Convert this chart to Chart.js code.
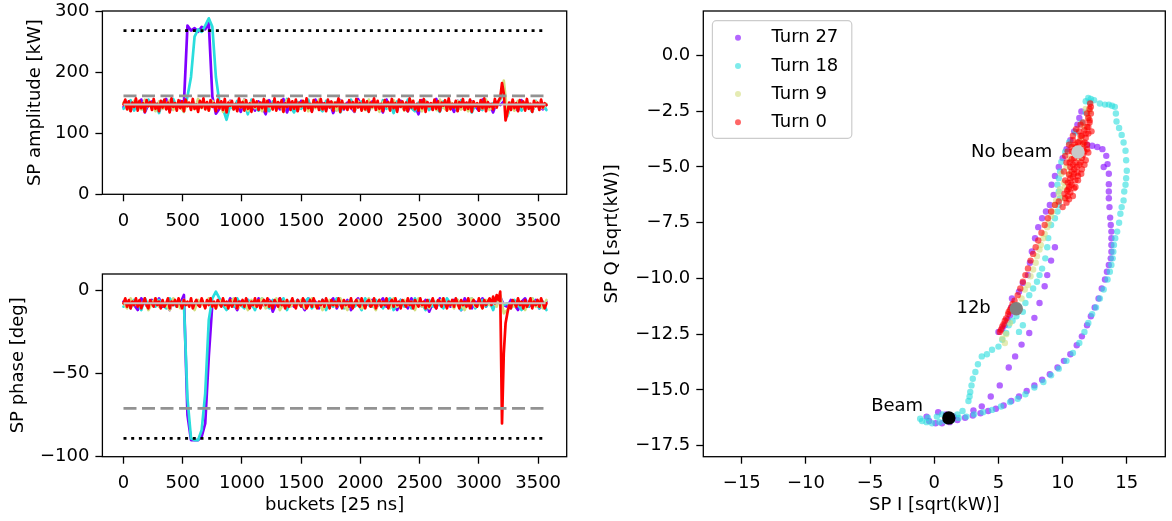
<!DOCTYPE html>
<html>
<head>
<meta charset="utf-8">
<script src="https://cdn.jsdelivr.net/npm/chart.js@4.4.1/dist/chart.umd.min.js"></script>
<style>
  body { margin: 0; background: #fff; width: 1172px; height: 521px; overflow: hidden; position: relative; }
  canvas { position: absolute; }
  #ampChart { left: 0; top: 0; }
  #phaseChart { left: 0; top: 240px; }
  #iqChart { left: 580px; top: 0; }
</style>
</head>
<body>
<canvas id="ampChart" width="580" height="240"></canvas>
<canvas id="phaseChart" width="580" height="281"></canvas>
<canvas id="iqChart" width="592" height="521"></canvas>
<script>
// sampling grids of the time series (Turn 0 sampled finer, it sits on top)
const buckets = Array.from({length: 120}, (_, i) => i * 30);
const fineBuckets = Array.from({length: 239}, (_, i) => i * 15);
const bucketTicks = [0, 500, 1000, 1500, 2000, 2500, 3000, 3500];
const ampTicks = [0, 100, 200, 300];
const phaseTicks = [-100, -50, 0];
const iTicks = [-15, -10, -5, 0, 5, 10, 15];
const qTicks = [-17.5, -15, -12.5, -10, -7.5, -5, -2.5, 0];

const turnLabels = ['Turn 27', 'Turn 18', 'Turn 9', 'Turn 0'];
const turnColors = ['128,0,255', '42,221,221', '212,221,128', '255,0,0'];

// reference levels: limit (dotted), threshold (dashed), mean (grey)
const lineSpan = [0, 3563];
const ampLevels = [268, 161, 147];
const phaseLevels = [-89, -71, -8];

// SP amplitude [kW]
const ampTurn27 = [
  143,151,137,149,140,155,134,147,152,138,
  150,141,156,136,148,144,153,148,276,268,
  272,266,274,270,280,160,132,140,150,138,
  153,142,147,135,155,140,149,137,152,143,
  131,154,141,148,139,156,134,150,145,137,
  153,140,147,136,155,143,149,138,151,133,
  146,154,139,150,142,135,156,144,148,137,
  152,141,147,134,155,140,149,138,153,143,
  136,151,145,131,154,141,148,139,156,137,
  150,143,147,135,153,140,149,138,152,144,
  137,155,141,148,134,151,146,152,140,149,
  143,137,154,140,148,136,151,145,139,147];
const ampTurn18 = [
  140,148,154,137,151,143,136,155,141,149,
  133,152,144,138,156,142,147,135,160,192,
  258,270,266,276,288,274,192,150,140,122,
  145,139,153,142,148,131,155,144,137,150,
  146,136,152,141,149,138,156,143,134,151,
  140,147,155,137,150,142,136,153,145,139,
  151,134,148,143,155,138,147,152,141,136,
  149,144,137,154,140,148,133,152,146,139,
  155,141,136,150,144,153,138,147,142,135,
  152,139,148,145,137,154,141,150,134,147,
  143,138,153,140,149,145,155,168,128,146,
  140,152,137,149,144,135,153,141,148,138];
const ampTurn9 = [
  150,142,137,153,146,139,155,144,148,136,
  152,140,147,154,138,149,143,135,151,145,
  139,156,141,148,137,153,144,150,135,147,
  152,139,146,143,155,137,150,141,148,136,
  153,144,139,151,147,135,154,142,149,138,
  145,152,136,148,141,155,139,147,143,150,
  137,153,145,140,149,136,152,144,138,155,
  141,148,135,151,146,139,154,143,150,137,
  147,153,140,145,136,152,144,149,138,155,
  142,137,150,147,153,139,145,136,151,144,
  148,140,155,138,146,143,158,186,130,150,
  137,153,144,140,149,136,152,145,141,148];
const ampTurn0 = [
  147,155,139,152,136,150,143,157,137,153,141,149,
  135,154,144,151,138,156,140,148,136,153,142,155,
  139,150,134,157,143,149,137,154,141,152,136,155,
  144,150,138,156,140,147,135,153,142,157,139,151,
  137,154,143,149,136,155,141,152,138,156,134,150,
  145,153,139,148,136,157,142,151,137,154,140,149,
  135,155,143,152,138,150,141,156,136,153,144,148,
  139,157,137,151,142,154,135,149,143,156,138,152,
  140,155,136,150,144,153,137,157,141,148,135,154,
  143,151,138,156,139,149,136,155,142,152,137,150,
  144,157,135,153,140,148,138,154,141,151,136,156,
  142,149,137,155,139,152,135,150,143,157,138,153,
  140,148,136,154,144,151,137,156,141,149,135,155,
  143,152,138,150,136,157,142,153,139,148,137,154,
  141,156,135,151,144,149,138,155,140,152,136,150,
  145,154,137,157,139,148,142,153,136,151,143,156,
  138,150,140,155,135,152,144,149,137,154,141,157,
  136,151,143,148,139,156,142,153,158,182,165,121,
  133,150,138,155,141,149,136,154,143,152,137,156,
  140,148,135,153,144,150,138,155,142,149,146];

// SP phase [deg]
const phaseTurn27 = [
  -7,-10,-6,-9,-12,-5,-8,-11,-6,-9,
  -5,-10,-8,-12,-6,-9,-8,-3,-75,-90,
  -90,-90,-88,-80,-40,-8,-10,-6,-9,-11,
  -5,-8,-12,-7,-10,-6,-9,-11,-5,-8,
  -10,-6,-13,-8,-5,-9,-11,-7,-10,-6,
  -8,-12,-5,-9,-7,-11,-6,-10,-8,-5,
  -11,-7,-9,-6,-12,-8,-5,-10,-7,-9,
  -6,-11,-8,-5,-10,-7,-9,-12,-6,-8,
  -11,-5,-9,-7,-10,-6,-13,-8,-11,-5,
  -9,-7,-10,-6,-8,-12,-5,-9,-11,-7,
  -8,-5,-10,-6,-11,-7,-4,-9,-10,-6,
  -9,-12,-7,-5,-10,-8,-6,-11,-9,-7];
const phaseTurn18 = [
  -10,-7,-11,-6,-8,-12,-5,-9,-7,-10,
  -6,-9,-11,-5,-8,-10,-7,-8,-65,-89,
  -90,-90,-84,-62,-18,-5,-1,-5,-9,-12,
  -7,-10,-5,-9,-11,-6,-8,-12,-7,-5,
  -9,-11,-6,-8,-10,-5,-12,-7,-9,-6,
  -10,-7,-5,-11,-8,-9,-6,-12,-7,-10,
  -5,-9,-11,-7,-6,-10,-8,-12,-5,-9,
  -10,-6,-8,-11,-7,-5,-12,-9,-6,-10,
  -7,-11,-5,-9,-8,-12,-6,-10,-7,-9,
  -11,-5,-8,-10,-6,-12,-9,-7,-5,-11,
  -8,-6,-10,-7,-12,-5,-6,-9,-8,-11,
  -6,-9,-12,-7,-10,-5,-8,-11,-7,-12];
const phaseTurn9 = [
  -8,-11,-5,-9,-7,-10,-6,-12,-8,-5,
  -10,-7,-9,-12,-5,-8,-11,-6,-9,-7,
  -12,-6,-8,-10,-5,-9,-11,-7,-6,-10,
  -8,-5,-11,-9,-7,-12,-6,-10,-8,-5,
  -11,-7,-9,-5,-12,-8,-6,-10,-7,-9,
  -6,-11,-8,-5,-10,-7,-12,-9,-6,-8,
  -10,-5,-9,-12,-7,-8,-6,-11,-10,-5,
  -8,-12,-6,-9,-7,-11,-5,-10,-8,-6,
  -9,-7,-12,-5,-10,-8,-11,-6,-9,-7,
  -5,-10,-8,-11,-6,-9,-12,-7,-5,-10,
  -8,-11,-6,-9,-7,-10,-3,-14,-12,-8,
  -10,-6,-9,-12,-7,-5,-10,-8,-11,-6];
const phaseTurn0 = [
  -8,-5,-10,-6,-11,-7,-9,-5,-10,-6,-11,-8,
  -5,-9,-11,-6,-8,-10,-5,-9,-7,-11,-6,-10,
  -8,-5,-11,-7,-9,-6,-10,-5,-8,-11,-6,-9,
  -7,-10,-5,-11,-8,-6,-9,-10,-5,-8,-11,-6,
  -9,-5,-10,-7,-11,-6,-8,-10,-5,-9,-7,-11,
  -6,-10,-8,-5,-11,-7,-9,-6,-10,-5,-8,-11,
  -7,-9,-5,-10,-6,-11,-8,-6,-9,-5,-10,-7,
  -11,-6,-8,-10,-5,-9,-7,-11,-6,-10,-8,-5,
  -9,-11,-6,-8,-10,-5,-7,-11,-9,-6,-10,-5,
  -8,-11,-7,-9,-6,-10,-5,-8,-11,-6,-9,-7,
  -10,-5,-8,-11,-6,-9,-7,-10,-5,-11,-8,-6,
  -9,-10,-5,-8,-11,-7,-6,-10,-9,-5,-11,-8,
  -6,-10,-7,-9,-5,-11,-8,-6,-10,-5,-9,-7,
  -11,-6,-8,-10,-5,-9,-7,-11,-6,-8,-10,-5,
  -9,-7,-11,-6,-10,-8,-5,-9,-11,-6,-7,-10,
  -5,-8,-11,-7,-9,-6,-10,-5,-8,-11,-6,-9,
  -7,-10,-5,-11,-8,-6,-9,-10,-5,-8,-11,-6,
  -9,-7,-5,-9,-4,-8,-3,-6,-1,-80,-38,-20,
  -14,-9,-11,-6,-8,-10,-5,-9,-7,-11,-6,-10,
  -8,-5,-11,-7,-9,-6,-10,-5,-8,-11,-8];

// SP I / SP Q [sqrt(kW)] per turn
const iqTurn27I = [11.46,11.3,11.15,10.9,10.6,10.3,10.0,9.7,9.4,9.14,9.3,9.0,8.7,8.4,8.1,7.85,7.6,7.45,7.3,6.9,6.6,6.05,6.0,5.9,5.7,5.5,5.3,5.0,
  11.9,12.3,12.7,13.1,13.4,13.5,13.2,13.6,13.6,13.6,13.6,13.65,13.7,13.75,13.8,13.8,13.8,13.8,13.75,13.6,13.45,
  13.3,13.05,12.8,12.5,12.2,11.9,11.5,11.1,10.6,10.1,9.6,9.0,8.4,7.8,7.2,6.6,6.0,5.4,4.8,4.2,3.6,3.0,2.4,1.8,1.2,0.6,0.1,-0.4,-0.6,0.3,0.9,1.5,
  3.05,3.7,4.4,5.1,5.8,6.3,6.8,7.4,7.8,8.2,8.6,8.8,9.1,9.4];
const iqTurn27Q = [-2.51,-2.8,-3.1,-3.4,-3.8,-4.2,-4.6,-5.0,-5.4,-5.8,-6.25,-6.7,-7.0,-7.3,-7.7,-8.2,-8.79,-9.3,-9.85,-10.2,-10.6,-10.9,-11.3,-11.65,-11.85,-12.1,-12.25,-12.4,
  -4.0,-4.05,-4.1,-4.2,-4.5,-4.87,-5.0,-5.3,-5.77,-6.1,-6.4,-6.8,-7.27,-7.6,-7.9,-8.2,-8.5,-8.8,-9.1,-9.4,-9.7,
  -10.05,-10.45,-10.9,-11.3,-11.7,-12.1,-12.6,-13.0,-13.4,-13.7,-14.0,-14.3,-14.55,-14.8,-15.05,-15.3,-15.5,-15.7,-15.85,-15.95,-16.05,-16.15,-16.25,-16.35,-16.45,-16.5,-16.5,-16.4,-16.2,-16.0,-16.1,-16.2,
  -15.92,-15.74,-15.3,-14.8,-14.0,-13.5,-12.97,-12.45,-11.77,-11.1,-10.35,-9.85,-9.2,-8.6];
const iqTurn18I = [11.8,12.0,12.2,12.45,
  12.9,13.3,13.6,13.85,14.07,14.15,14.2,14.4,14.6,14.75,14.9,14.95,15.0,14.95,14.9,14.8,14.75,14.6,14.5,14.4,14.25,14.1,14.0,13.95,13.9,13.8,13.68,
  13.5,13.2,12.9,12.6,12.3,12.0,11.7,11.3,10.8,10.3,9.7,9.1,8.5,7.8,7.1,6.5,5.9,5.2,4.5,3.8,3.1,2.5,1.9,1.4,0.87,0.4,-0.17,-0.6,-0.95,-1.1,-0.5,0.2,0.6,1.3,1.8,2.2,
  2.66,2.75,2.8,2.9,3.0,3.2,3.4,3.7,4.1,4.5,5.0,5.3,5.6,5.8,6.1,6.4,6.9,6.9,6.6,7.1,7.4,7.7,8.0,8.2,8.4,8.65,8.8,8.88,9.1,9.4,9.6,9.7,9.8,9.7,9.6,9.7,9.8,9.9,10.2,10.5,11.0,11.5,11.8,12.1];
const iqTurn18Q = [-2.05,-1.9,-1.95,-2.0,
  -2.15,-2.2,-2.2,-2.25,-2.3,-2.6,-2.96,-3.25,-3.56,-3.9,-4.27,-4.7,-5.17,-5.5,-5.8,-6.1,-6.5,-6.8,-7.1,-7.5,-7.9,-8.2,-8.5,-8.8,-9.1,-9.4,-9.7,
  -10.05,-10.5,-10.9,-11.3,-11.6,-12.0,-12.4,-12.9,-13.35,-13.7,-14.05,-14.35,-14.65,-14.9,-15.2,-15.4,-15.55,-15.75,-15.9,-16.0,-16.1,-16.2,-16.26,-16.35,-16.4,-16.45,-16.5,-16.45,-16.4,-16.3,-16.25,-16.2,-16.1,-16.15,-16.1,-15.95,
  -15.5,-15.3,-15.1,-14.8,-14.5,-14.2,-13.85,-13.5,-13.4,-13.2,-13.06,-12.75,-12.45,-12.1,-11.9,-11.7,-11.5,-12.1,-12.4,-11.1,-10.75,-10.45,-10.15,-9.85,-9.56,-9.1,-8.6,-8.19,-7.6,-7.3,-7.0,-6.7,-6.4,-6.1,-5.8,-5.5,-5.2,-4.77,-4.33,-3.9,-3.45,-3.0,-2.55,-2.1];
const iqTurn9I = [5.3,5.5,5.6,5.9,6.2,6.5,6.8,7.05,7.3,7.5,7.7,7.9,8.0,8.2,8.3,8.5,8.6,8.8,8.9,9.1,9.2,9.4,9.5,9.7,9.8,10.1,9.9,10.3,10.6,11.0,11.4,11.7,12.0,12.1,11.8,10.2,10.5,11.3,11.6,10.0];
const iqTurn9Q = [-12.7,-12.9,-12.5,-12.0,-11.4,-11.2,-10.9,-10.5,-10.3,-9.9,-9.6,-9.3,-9.0,-8.7,-8.5,-8.2,-8.0,-7.7,-7.5,-7.2,-7.0,-6.7,-6.5,-6.2,-6.0,-5.7,-5.3,-5.0,-4.6,-4.1,-3.7,-3.2,-2.8,-2.5,-2.4,-5.9,-5.3,-4.6,-4.0,-6.4];
const iqTurn0I = [12.15,12.1,12.2,12.0,12.1,11.9,11.7,12.0,11.5,11.8,11.3,11.6,11.9,11.1,11.4,11.7,10.9,11.2,11.5,10.7,11.0,11.3,10.6,10.9,11.15,10.5,10.8,11.0,10.4,10.7,10.9,10.35,10.6,10.4,10.5,10.3,11.3,11.6,11.9,10.95,10.75,12.0,11.8,11.5,11.2,
  11.0,11.3,11.6,10.8,11.1,10.6,10.9,10.5,10.8,10.2,11.4,11.7,11.2,12.0,11.8,12.1,10.9,11.4,11.6,10.7,11.2,10.45,10.6,11.0,11.9,12.25,12.2,10.55,10.7,10.8,
  10.2,10.4,10.5,10.8,11.05,11.4,10.1,10.2,11.7,10.3,10.15,11.45,
  10.0,9.7,9.4,9.1,8.85,8.6,8.35,8.1,7.9,7.7,7.5,7.3,7.1,6.9,6.7,6.5,6.25,6.0,5.75,5.5,5.3,5.1,5.2,5.6,5.9,5.4,5.8,6.1];
const iqTurn0Q = [-2.15,-2.4,-2.6,-2.8,-3.0,-3.2,-3.35,-3.5,-3.6,-3.7,-3.85,-3.95,-4.0,-4.1,-4.2,-4.3,-4.35,-4.5,-4.6,-4.65,-4.8,-4.9,-5.0,-5.1,-5.25,-5.35,-5.45,-5.6,-5.7,-5.8,-5.95,-6.05,-6.15,-6.3,-6.45,-6.6,-3.4,-3.0,-2.6,-4.0,-4.3,-4.35,-4.7,-5.1,-5.6,
  -4.2,-4.3,-4.45,-4.9,-5.0,-5.5,-5.3,-5.9,-6.3,-6.4,-3.6,-3.9,-3.9,-3.2,-3.5,-2.9,-4.6,-4.8,-4.2,-5.2,-5.4,-6.0,-5.7,-5.9,-4.2,-3.4,-2.3,-4.8,-4.1,-3.8,
  -4.5,-4.3,-4.0,-3.6,-3.3,-3.1,-5.2,-5.6,-4.9,-4.8,-6.2,-5.3,
  -6.8,-6.55,-6.7,-7.0,-7.3,-7.6,-7.95,-8.3,-8.6,-8.9,-9.2,-9.55,-9.85,-10.15,-10.45,-10.75,-11.0,-11.3,-11.6,-11.9,-12.15,-12.4,-12.3,-11.8,-11.4,-12.05,-11.5,-11.15];

// marked operating points
const markLabels = ['No beam', '12b', 'Beam'];
const markI = [11.2, 6.39, 1.13];
const markQ = [-4.33, -11.36, -16.26];
const markColors = ['#c8c8c8', '#808080', '#000000'];
const markTextI = [9.2, 4.4, -0.87];
const markTextQ = [-4.33, -11.36, -15.72];

Chart.defaults.font.family = "'DejaVu Sans', sans-serif";
Chart.defaults.font.size = 18;
Chart.defaults.color = '#000';

const minus = v => String(v).replace('-', '\u2212');

function axis(min, max, ticks, fmt, size, title, titlePad, tickPad) {
  return {
    type: 'linear', min: min, max: max,
    afterBuildTicks: s => { s.ticks = ticks.map(v => ({value: v})); },
    afterFit: s => {
      // fixed axis box, no extra room for overhanging labels
      if (s.isHorizontal()) { s.height = size; s.paddingLeft = 0; s.paddingRight = 0; }
      else { s.width = size; s.paddingTop = 0; s.paddingBottom = 0; }
    },
    border: {display: false},
    grid: {drawOnChartArea: false, drawTicks: true, tickLength: 7, tickWidth: 1.3, tickColor: '#000'},
    ticks: {autoSkip: false, maxRotation: 0, padding: tickPad, callback: fmt},
    title: {display: !!title, text: title, padding: titlePad}
  };
}

const frame = {
  id: 'frame',
  afterDraw(chart) {
    const a = chart.chartArea, ctx = chart.ctx;
    ctx.save();
    ctx.strokeStyle = '#000';
    ctx.lineWidth = 1.3;
    ctx.strokeRect(a.left, a.top, a.right - a.left, a.bottom - a.top);
    ctx.restore();
  }
};

function series(values, i) {
  const grid = values.length === fineBuckets.length ? fineBuckets : buckets;
  return {
    label: turnLabels[i],
    data: values.map((v, k) => ({x: grid[k], y: v})),
    borderColor: 'rgb(' + turnColors[i] + ')',
    borderWidth: 2.7, borderJoinStyle: 'round', borderCapStyle: 'round',
    pointRadius: 0, tension: 0, order: 10 - i
  };
}

function levels(vals) {
  return [
    {data: lineSpan.map(x => ({x: x, y: vals[0]})), borderColor: '#000', borderWidth: 2.8, borderDash: [3, 4.7], pointRadius: 0, order: 0},
    {data: lineSpan.map(x => ({x: x, y: vals[1]})), borderColor: '#929292', borderWidth: 2.8, borderDash: [13, 5.5], pointRadius: 0, order: 1},
    {data: lineSpan.map(x => ({x: x, y: vals[2]})), borderColor: '#c4c4c4', borderWidth: 2, pointRadius: 0, order: 2}
  ];
}

const common = {
  responsive: false, animation: false, devicePixelRatio: 1,
  plugins: {legend: {display: false}, tooltip: {enabled: false}}
};

new Chart(document.getElementById('ampChart').getContext('2d'), {
  type: 'line',
  data: {datasets: [ampTurn27, ampTurn18, ampTurn9, ampTurn0].map(series).concat(levels(ampLevels))},
  options: Object.assign({}, common, {
    layout: {padding: {left: 0, top: 11, right: 13.3, bottom: 0}},
    scales: {
      x: axis(-178, 3741, bucketTicks, v => minus(v), 45.7, '', 0, 9),
      y: axis(0, 300, ampTicks, v => minus(v), 102.4, 'SP amplitude [kW]', {top: 24.2, bottom: 0}, 6)
    }
  }),
  plugins: [frame]
});

new Chart(document.getElementById('phaseChart').getContext('2d'), {
  type: 'line',
  data: {datasets: [phaseTurn27, phaseTurn18, phaseTurn9, phaseTurn0].map(series).concat(levels(phaseLevels))},
  options: Object.assign({}, common, {
    layout: {padding: {left: 0, top: 34, right: 13.3, bottom: 0}},
    scales: {
      x: axis(-178, 3741, bucketTicks, v => minus(v), 64.3, 'buckets [25 ns]', {top: 0, bottom: 5.2}, 9),
      y: axis(-100, 9.6, phaseTicks, v => minus(v), 102.4, 'SP phase [deg]', {top: 7.7, bottom: 0}, 6)
    }
  }),
  plugins: [frame]
});

function turnScatter(I, Q, i) {
  return {
    label: turnLabels[i],
    data: I.map((x, k) => ({x: x, y: Q[k]})),
    backgroundColor: 'rgba(' + turnColors[i] + ',0.6)',
    borderWidth: 0, pointRadius: 3.2, order: 10 - i
  };
}

const markDatasets = markLabels.map((name, k) => ({
  label: name,
  data: [{x: markI[k], y: markQ[k]}],
  backgroundColor: markColors[k], borderWidth: 0, pointRadius: 6.7, order: 0
}));

const annotate = {
  id: 'annotate',
  afterDatasetsDraw(chart) {
    const ctx = chart.ctx, sx = chart.scales.x, sy = chart.scales.y;
    ctx.save();
    ctx.font = "18px 'DejaVu Sans', sans-serif";
    ctx.fillStyle = '#000';
    ctx.textAlign = 'right';
    ctx.textBaseline = 'middle';
    markLabels.forEach((t, k) => ctx.fillText(t, sx.getPixelForValue(markTextI[k]), sy.getPixelForValue(markTextQ[k])));
    ctx.restore();
  }
};

const legendBox = {
  id: 'legendBox',
  afterDraw(chart) {
    const ctx = chart.ctx, a = chart.chartArea;
    const x0 = a.left + 9.1, y0 = a.top + 9.7, w = 139.4, h = 117.6, r = 4;
    ctx.save();
    ctx.beginPath();
    ctx.moveTo(x0 + r, y0);
    ctx.arcTo(x0 + w, y0, x0 + w, y0 + h, r);
    ctx.arcTo(x0 + w, y0 + h, x0, y0 + h, r);
    ctx.arcTo(x0, y0 + h, x0, y0, r);
    ctx.arcTo(x0, y0, x0 + w, y0, r);
    ctx.closePath();
    ctx.fillStyle = 'rgba(255,255,255,0.8)';
    ctx.fill();
    ctx.strokeStyle = '#cccccc';
    ctx.lineWidth = 1.2;
    ctx.stroke();
    ctx.font = "18px 'DejaVu Sans', sans-serif";
    ctx.textBaseline = 'middle';
    turnLabels.forEach((t, i) => {
      const y = y0 + 17 + i * 28.2;
      ctx.fillStyle = 'rgba(' + turnColors[i] + ',0.6)';
      ctx.beginPath();
      ctx.arc(x0 + 25.6, y, 3, 0, Math.PI * 2);
      ctx.fill();
      ctx.fillStyle = '#000';
      ctx.fillText(t, x0 + 59.1, y);
    });
    ctx.restore();
  }
};

new Chart(document.getElementById('iqChart').getContext('2d'), {
  type: 'scatter',
  data: {
    datasets: [
      turnScatter(iqTurn27I, iqTurn27Q, 0),
      turnScatter(iqTurn18I, iqTurn18Q, 1),
      turnScatter(iqTurn9I, iqTurn9Q, 2),
      turnScatter(iqTurn0I, iqTurn0Q, 3)
    ].concat(markDatasets)
  },
  options: Object.assign({}, common, {
    layout: {padding: {left: 0, top: 11, right: 5.2, bottom: 0}},
    scales: {
      x: axis(-18, 18, iTicks, v => minus(v), 64.3, 'SP I [sqrt(kW)]', {top: 0, bottom: 5.2}, 9),
      y: axis(-18, 2, qTicks, v => minus(v.toFixed(1)), 123.3, 'SP Q [sqrt(kW)]', {top: 22, bottom: 0}, 6)
    }
  }),
  plugins: [frame, annotate, legendBox]
});
</script>
</body>
</html>
